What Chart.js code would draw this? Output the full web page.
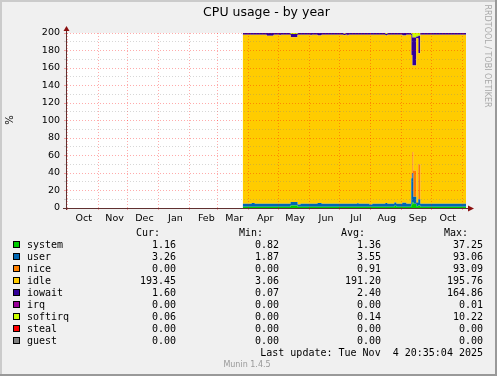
<!DOCTYPE html>
<html>
<head>
<meta charset="utf-8">
<script src="https://cdn.jsdelivr.net/npm/chart.js@4.4.0/dist/chart.umd.min.js"></script>
<style>
  html, body { margin: 0; padding: 0; background: #f0f0f0; }
  #wrap { width: 497px; height: 376px; }
</style>
</head>
<body>
<div id="wrap"><canvas id="cpu" width="497" height="376"></canvas></div>
<script>
// x values are days since 1 Oct 2024; window is the 400 days up to 4 Nov 2025 20:35
const monthStarts = [0, 31, 61, 92, 123, 151, 182, 212, 243, 273, 304, 335, 365, 396];
const monthLabels = ["Oct", "Nov", "Dec", "Jan", "Feb", "Mar", "Apr", "May", "Jun", "Jul", "Aug", "Sep", "Oct", ""];
const yTicks = [0, 10, 20, 30, 40, 50, 60, 70, 80, 90, 100, 110, 120, 130, 140, 150, 160, 170, 180, 190, 200];

// sample days (each value holds until the next day in the list)
const days    = [176, 185, 188, 200, 207, 213, 214, 224, 231, 234, 244, 245, 251, 255, 277, 279, 281, 282,
                 291, 292, 303, 306, 319, 321, 328, 330, 336, 340, 345, 346, 347, 350, 352, 354, 399.86];
const system  = [1.3, 1.3, 1.3, 1.3, 1.3, 1.3, 1.3, 3.0, 1.3, 1.3, 1.3, 1.3, 1.3, 1.3, 1.3, 1.3, 1.3, 1.3,
                 1.3, 1.3, 1.3, 1.3, 1.3, 1.3, 2.7, 1.3, 1.3, 1.3, 4, 7, 5, 2, 3, 1.3, 1.3];
const user    = [3.6, 4.3, 3.6, 3.6, 3.6, 3.6, 3.6, 3.8, 2.6, 3.6, 3.6, 3.6, 4.4, 3.6, 3.6, 3.6, 3.6, 3.6,
                 4.5, 3.6, 2.8, 3.6, 4.3, 3.6, 3.6, 3.6, 4.7, 3.6, 30, 33, 8, 4, 7, 3.6, 3.6];
const nice    = [0, 0, 0, 0, 0, 0, 0, 0, 0, 0, 0, 0, 0, 0, 0, 0, 0, 0,
                 0, 0, 0, 0, 0, 0, 0, 0, 0, 0, 6, 24, 30, 1, 40, 0, 0];
const idle    = [193.2, 192.5, 193.2, 191.9, 193.2, 192.3, 193.2, 188.4, 194.2, 193.2, 192.2, 193.2, 191.4, 193.2, 192.4, 193.2, 192.1, 193.2,
                 192.3, 193.2, 194.0, 193.2, 191.6, 193.2, 191.8, 193.2, 191.1, 193.2, 135, 99, 120, 187, 127, 193.2, 193.2];
const iowait  = [1.8, 1.8, 1.8, 3.1, 1.8, 2.7, 1.8, 3.6, 1.8, 1.8, 2.8, 1.8, 2.8, 1.8, 1.8, 1.8, 2.9, 1.8,
                 1.8, 1.8, 1.8, 1.8, 1.8, 1.8, 1.8, 1.8, 2.8, 1.8, 24, 32, 32, 2, 20, 1.8, 1.8];
const softirq = [0.1, 0.1, 0.1, 0.1, 0.1, 0.1, 0.1, 1.2, 0.1, 0.1, 0.1, 0.1, 0.1, 0.1, 0.9, 0.1, 0.1, 0.1,
                 0.1, 0.1, 0.1, 0.1, 1.0, 0.1, 0.1, 0.1, 0.1, 0.1, 1, 5, 5, 4, 3, 0.1, 0.1];

// legend table
const legendNames  = ["system", "user", "nice", "idle", "iowait", "irq", "softirq", "steal", "guest"];
const legendColors = ["#00CC00", "#0066B3", "#FF8000", "#FFCC00", "#330099", "#990099", "#CCFF00", "#FF0000", "#808080"];
const curVals = ["1.16", "3.26", "0.00", "193.45", "1.60", "0.00", "0.06", "0.00", "0.00"];
const minVals = ["0.82", "1.87", "0.00", "3.06", "0.07", "0.00", "0.00", "0.00", "0.00"];
const avgVals = ["1.36", "3.55", "0.91", "191.20", "2.40", "0.00", "0.14", "0.00", "0.00"];
const maxVals = ["37.25", "93.06", "93.09", "195.76", "164.86", "0.01", "10.22", "0.00", "0.00"];

const MAJOR = "rgba(255,0,0,0.33)";
const MINOR = "rgba(130,130,130,0.32)";
const pts = arr => days.map((d, i) => ({ x: d, y: arr[i] }));

function area(label, arr, color, fill) {
  return {
    label: label,
    data: pts(arr),
    backgroundColor: color,
    borderColor: "rgba(0,0,0,0)",
    borderWidth: 0,
    pointRadius: 0,
    stepped: true,
    fill: fill
  };
}

const muninFrame = {
  id: "muninFrame",
  beforeDraw(chart) {
    const { ctx, chartArea: a, width, height } = chart;
    ctx.save();
    ctx.fillStyle = "#f0f0f0";
    ctx.fillRect(0, 0, width, height);
    ctx.fillStyle = "#cbcbcb";
    ctx.fillRect(0, 0, width, 2);
    ctx.fillRect(0, 0, 2, height);
    ctx.fillStyle = "#999999";
    ctx.fillRect(0, height - 2, width, 2);
    ctx.fillRect(width - 2, 0, 2, height);
    ctx.fillStyle = "#ffffff";
    ctx.fillRect(a.left, a.top, a.right - a.left, a.bottom - a.top);
    ctx.restore();
  },
  afterDraw(chart) {
    const { ctx, chartArea: a } = chart;
    ctx.save();
    // axes
    ctx.strokeStyle = "#603030";
    ctx.lineWidth = 1;
    ctx.beginPath();
    ctx.moveTo(a.left - 0.5, a.bottom + 2);
    ctx.lineTo(a.left - 0.5, a.top - 4);
    ctx.moveTo(a.left - 4, a.bottom + 0.5);
    ctx.lineTo(a.right + 3, a.bottom + 0.5);
    ctx.stroke();
    ctx.fillStyle = "#8b1010";
    ctx.beginPath();
    ctx.moveTo(a.left - 0.5, a.top - 7);
    ctx.lineTo(a.left - 3.5, a.top - 2);
    ctx.lineTo(a.left + 2.5, a.top - 2);
    ctx.closePath();
    ctx.fill();
    ctx.beginPath();
    ctx.moveTo(a.right + 8, a.bottom + 0.5);
    ctx.lineTo(a.right + 2, a.bottom - 2.5);
    ctx.lineTo(a.right + 2, a.bottom + 3.5);
    ctx.closePath();
    ctx.fill();

    // title
    ctx.fillStyle = "#000";
    ctx.textAlign = "center";
    ctx.textBaseline = "middle";
    ctx.font = "12.5px 'DejaVu Sans'";
    ctx.fillText("CPU usage - by year", (a.left + a.right) / 2, 13);

    // y unit
    ctx.save();
    ctx.translate(10.5, 120);
    ctx.rotate(-Math.PI / 2);
    ctx.font = "10px 'DejaVu Sans'";
    ctx.fillText("%", 0, 0);
    ctx.restore();

    // rrdtool watermark
    ctx.save();
    ctx.translate(487.5, 56);
    ctx.rotate(Math.PI / 2);
    ctx.font = "8px 'DejaVu Sans'";
    ctx.fillStyle = "#a8a8a8";
    ctx.fillText("RRDTOOL / TOBI OETIKER", 0, 0);
    ctx.restore();

    // legend table
    ctx.font = "10px 'DejaVu Sans Mono'";
    ctx.fillStyle = "#000";
    ctx.textAlign = "right";
    ctx.fillText("Cur:", 160, 233);
    ctx.fillText("Min:", 263, 233);
    ctx.fillText("Avg:", 365, 233);
    ctx.fillText("Max:", 468, 233);
    legendNames.forEach((name, i) => {
      const y = 245 + 12 * i;
      ctx.fillStyle = legendColors[i];
      ctx.fillRect(13, y - 4, 7, 7);
      ctx.strokeStyle = "#000";
      ctx.strokeRect(13.5, y - 3.5, 6, 6);
      ctx.fillStyle = "#000";
      ctx.textAlign = "left";
      ctx.fillText(name, 27, y);
      ctx.textAlign = "right";
      ctx.fillText(curVals[i], 176, y);
      ctx.fillText(minVals[i], 279, y);
      ctx.fillText(avgVals[i], 381, y);
      ctx.fillText(maxVals[i], 483, y);
    });
    ctx.fillText("Last update: Tue Nov  4 20:35:04 2025", 483, 353);

    ctx.textAlign = "center";
    ctx.font = "8px 'DejaVu Sans'";
    ctx.fillStyle = "#999999";
    ctx.fillText("Munin 1.4.5", 247, 365);
    ctx.restore();
  }
};

Chart.defaults.font.family = "'DejaVu Sans'";

new Chart(document.getElementById("cpu"), {
  type: "line",
  data: {
    datasets: [
      area("system", system, "#00CC00", "origin"),
      area("user", user, "#0066B3", "-1"),
      area("nice", nice, "#FF8000", "-1"),
      area("idle", idle, "#FFCC00", "-1"),
      area("iowait", iowait, "#330099", "-1"),
      area("softirq", softirq, "#CCFF00", "-1")
    ]
  },
  options: {
    responsive: false,
    animation: false,
    devicePixelRatio: 1,
    layout: { padding: { left: 0, right: 31, top: 33, bottom: 148 } },
    plugins: {
      legend: { display: false },
      title: { display: false },
      tooltip: { enabled: false }
    },
    scales: {
      x: {
        type: "linear",
        min: -0.14,
        max: 399.86,
        afterBuildTicks: s => { s.ticks = monthStarts.map(v => ({ value: v })); },
        afterFit: s => { s.height = 20; },
        ticks: {
          callback: (v, i) => monthLabels[i],
          autoSkip: false,
          maxRotation: 0,
          minRotation: 0,
          labelOffset: 16.5,
          padding: 3,
          color: "#000",
          font: { size: 9.5 }
        },
        grid: { z: 1, color: MAJOR, tickColor: MAJOR, tickLength: 2 },
        border: { display: false, dash: [1, 2] }
      },
      y: {
        stacked: true,
        min: 0,
        max: 200,
        afterBuildTicks: s => { s.ticks = yTicks.map(v => ({ value: v })); },
        afterFit: s => { s.width = 67; },
        ticks: {
          callback: v => (v % 20 === 0 ? String(v) : ""),
          autoSkip: false,
          padding: 4,
          color: "#000",
          font: { size: 9.5 }
        },
        grid: {
          z: 1,
          color: c => (c.tick && c.tick.value % 20 === 0 ? MAJOR : MINOR),
          tickColor: c => (c.tick && c.tick.value % 20 === 0 ? MAJOR : MINOR),
          tickLength: 3
        },
        border: { display: false, dash: [1, 2] }
      }
    }
  },
  plugins: [muninFrame]
});
</script>
</body>
</html>
